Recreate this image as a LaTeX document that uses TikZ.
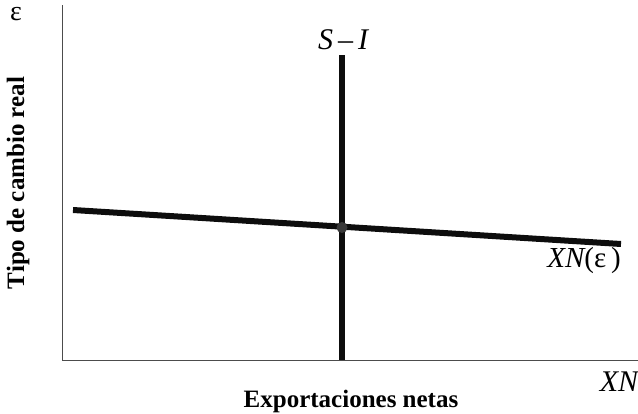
\documentclass[tikz,border=0pt]{standalone}
\usepackage{fontspec}
\setmainfont{Liberation Serif}
\usetikzlibrary{positioning}
\definecolor{caxe}{gray}{0.3}
\definecolor{ccourbe}{gray}{0.05}
\definecolor{cpoint}{gray}{0.22}

\begin{document}
\begin{tikzpicture}[x=0.5pt, y=-0.5pt,
    courbe/.style={ccourbe, line width=3pt},
    axe/.style={caxe, line width=0.8pt}]
  \useasboundingbox (0,0) rectangle (638,413);

  % --- axes -------------------------------------------------------------
  \coordinate (orig) at (62.5,360.5);
  \coordinate (ytop) at (62.5,5);
  \coordinate (xend) at (638,360.5);
  \draw[axe] (ytop) -- (orig) -- (xend);
  \node[font=\fontsize{14}{16}\selectfont] (eps) at (16,14) {ε};
  \node[font=\fontsize{15}{17}\selectfont\itshape] (xn) at (619,382) {XN};
  \node[font=\fontsize{12.5}{14}\selectfont\bfseries] (xlab) at (351,401)
       {Exportaciones netas};
  \node[font=\fontsize{12.5}{14}\selectfont\bfseries, rotate=90] (ylab)
       at (18,183) {Tipo de cambio real};

  % --- epargne moins investissement ---------------------------------------
  \coordinate (si-haut) at (342,55);
  \coordinate (si-bas) at (342,360);
  \draw[courbe] (si-haut) -- (si-bas);
  \node[font=\fontsize{15}{17}\selectfont\itshape] (si) at (343,40)
       {S\,\upshape–\,\itshape I};

  % --- exportations nettes -------------------------------------------------
  \coordinate (xn-g) at (73,210);
  \coordinate (xn-d) at (621,244);
  \draw[courbe] (xn-g) -- (xn-d);
  \node[font=\fontsize{14.5}{16}\selectfont] (xneps) at (584,261)
       {\itshape XN\upshape(ε\,)};

  % --- equilibre ----------------------------------------------------------
  \fill[cpoint] (342,227.5) circle (5.5);
\end{tikzpicture}
\end{document}
